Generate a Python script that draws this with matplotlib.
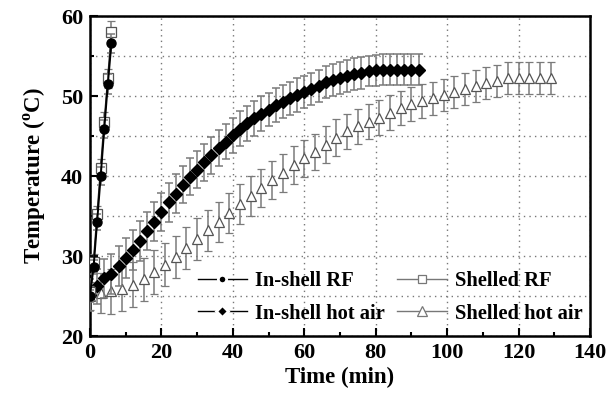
import matplotlib
matplotlib.use("Agg")
import matplotlib.pyplot as plt
from matplotlib.lines import Line2D
from matplotlib.ticker import MultipleLocator

plt.rcParams['font.family'] = ['Liberation Serif', 'DejaVu Serif']
plt.rcParams['font.weight'] = 'bold'
plt.rcParams['mathtext.fontset'] = 'custom'
plt.rcParams['mathtext.rm'] = 'Liberation Serif:bold'
plt.rcParams['mathtext.bf'] = 'Liberation Serif:bold'

# ---- data ----
rf_time = [0, 1, 2, 3, 4, 5, 6]
inshell_rf = [25.0, 28.6, 34.3, 40.0, 45.9, 51.5, 56.6]
inshell_rf_err = [0.8, 0.9, 1.0, 1.1, 1.1, 1.2, 1.2]
shelled_rf = [25.5, 29.3, 35.2, 41.0, 46.8, 52.2, 58.0]
shelled_rf_err = [0.8, 0.9, 1.0, 1.1, 1.2, 1.2, 1.4]

ha_in_time = list(range(0, 93, 2))
inshell_ha = [25.1, 26.2, 27.2, 27.8, 28.7, 29.7, 30.8, 31.9, 33.1, 34.3,
              35.5, 36.7, 37.8, 38.9, 39.9, 40.8, 41.7, 42.6, 43.5, 44.3,
              45.1, 45.9, 46.6, 47.2, 47.8, 48.3, 48.9, 49.3, 49.7, 50.1,
              50.5, 50.9, 51.3, 51.7, 52.0, 52.3, 52.5, 52.7, 52.9, 53.1,
              53.2, 53.3, 53.3, 53.3, 53.3, 53.3, 53.3]
inshell_ha_err = [2.0, 2.2, 2.4, 2.5, 2.5, 2.5, 2.5, 2.5, 2.4, 2.4,
                  2.4, 2.4, 2.4, 2.3, 2.3, 2.3, 2.3, 2.3, 2.2, 2.2,
                  2.2, 2.2, 2.2, 2.2, 2.2, 2.1, 2.1, 2.1, 2.1, 2.1,
                  2.0, 2.0, 2.0, 2.0, 2.0, 2.0, 2.0, 2.0, 2.0, 1.9,
                  1.9, 1.9, 1.9, 1.9, 1.9, 1.9, 1.9]

ha_sh_time = list(range(0, 130, 3))
shelled_ha = [25.0, 25.4, 25.6, 25.9, 26.4, 27.1, 28.0, 28.9, 29.9, 31.0,
              32.1, 33.2, 34.3, 35.4, 36.5, 37.5, 38.5, 39.5, 40.4, 41.4,
              42.2, 43.0, 43.9, 44.8, 45.6, 46.2, 46.8, 47.3, 47.9, 48.5,
              49.0, 49.4, 49.7, 50.1, 50.5, 50.9, 51.25, 51.6, 51.9, 52.2,
              52.2, 52.2, 52.2, 52.2]
shelled_ha_err = [1.8, 2.5, 2.8, 2.8, 2.8, 2.7, 2.7, 2.7, 2.6, 2.6,
                  2.6, 2.6, 2.5, 2.5, 2.5, 2.5, 2.4, 2.4, 2.4, 2.4,
                  2.3, 2.3, 2.3, 2.3, 2.2, 2.2, 2.2, 2.2, 2.2, 2.1,
                  2.1, 2.1, 2.1, 2.0, 2.0, 2.0, 2.0, 2.0, 2.0, 2.0,
                  2.0, 2.0, 2.0, 2.0]

labels = ['In-shell RF', 'In-shell hot air', 'Shelled RF', 'Shelled hot air']

# ---- figure ----
fig = plt.figure(figsize=(6.13, 3.93), dpi=100)
ax = fig.add_axes([0.1468, 0.145, 0.8157, 0.8142])

ecol = '#7a7a7a'
ekw = dict(ecolor=ecol, elinewidth=1.1, capsize=2.9, capthick=1.1)

ax.errorbar(ha_sh_time, shelled_ha, yerr=shelled_ha_err, fmt='^', ms=7.5,
            mfc='white', mec='#555555', mew=0.9, zorder=3, **ekw)
ax.errorbar(ha_in_time, inshell_ha, yerr=inshell_ha_err, fmt='D', ms=6.5,
            mfc='black', mec='black', zorder=4, **ekw)
ax.errorbar(rf_time, shelled_rf, yerr=shelled_rf_err, fmt='s-', ms=6.5,
            color='#333333', lw=1.2, mfc='white', mec='#555555', mew=0.9,
            zorder=5, **ekw)
ax.errorbar(rf_time, inshell_rf, yerr=inshell_rf_err, fmt='o-', ms=6.5,
            color='black', lw=1.4, mfc='black', mec='black', zorder=6, **ekw)

ax.set_xlim(0, 140)
ax.set_ylim(20, 60)
ax.xaxis.set_major_locator(MultipleLocator(20))
ax.xaxis.set_minor_locator(MultipleLocator(10))
ax.yaxis.set_major_locator(MultipleLocator(10))
ax.yaxis.set_minor_locator(MultipleLocator(5))

ax.grid(True, which='major', axis='x', linestyle=(0, (1, 3)), color='#777777', lw=1.0)
ax.grid(True, which='both', axis='y', linestyle=(0, (1, 3)), color='#777777', lw=1.0)
ax.set_axisbelow(True)

ax.tick_params(which='both', direction='in', labelsize=16, width=1.5)
ax.tick_params(which='major', length=6)
ax.tick_params(which='minor', length=3)
ax.tick_params(axis='x', pad=5)
ax.tick_params(axis='y', pad=5)
for s in ax.spines.values():
    s.set_linewidth(1.8)
for lab in ax.get_xticklabels() + ax.get_yticklabels():
    lab.set_fontweight('bold')

ax.set_xlabel('Time (min)', fontsize=16.5, fontweight='bold', labelpad=3)
ax.set_ylabel(r'Temperature ($^{\mathrm{o}}$C)', fontsize=16.5, fontweight='bold', labelpad=9)

handles = [
    Line2D([], [], color='black', lw=1.0, marker='o', ms=6, mfc='black', mec='white', mew=2),
    Line2D([], [], color='black', lw=1.0, marker='D', ms=6, mfc='black', mec='white', mew=2),
    Line2D([], [], color='#777777', lw=1.0, marker='s', ms=6, mfc='white', mec='#777777', mew=0.9),
    Line2D([], [], color='#777777', lw=1.0, marker='^', ms=7, mfc='white', mec='#777777', mew=0.9),
]
leg = ax.legend(handles, labels, ncol=2, loc='lower right', frameon=False,
                prop={'family': 'Liberation Serif', 'weight': 'bold', 'size': 14.8},
                handlelength=2.4, handletextpad=0.4, columnspacing=0.6,
                labelspacing=0.6, borderaxespad=0.2, bbox_to_anchor=(1.01, 0.0))

fig.savefig('out.png', dpi=100)
